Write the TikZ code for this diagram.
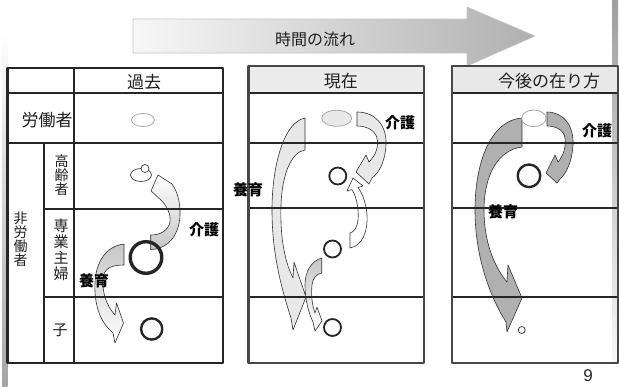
\documentclass[tikz,border=0pt]{standalone}
\usepackage{fontspec}
\setmainfont{Noto Sans CJK JP}
\newfontfamily\numfont{Liberation Sans}
\newcommand\lblfont{\fontsize{15}{15}\selectfont\bfseries}
\begin{document}
\begin{tikzpicture}[x=1pt,y=-1pt,line join=round,
  tline/.style={line width=2.3pt,draw=black!85},
  bline/.style={line width=2.4pt,draw=black!72},
  txt/.style={inner sep=0pt,text=black!88},
  lbl/.style={inner sep=0pt,text=black,font=\lblfont},
  arrA/.style={draw=black!80,line width=0.6pt},
  arrL/.style={arrA,fill=gray!18},
  arrD/.style={arrA,fill=gray!62}]
\useasboundingbox (0,0) rectangle (619,386);
\fill[white] (0,0) rectangle (619,386);

% side bars
\shade[top color=white,bottom color=gray!70] (2,33) rectangle (7.5,386);
\shade[top color=gray!75,bottom color=gray!6] (612,0) rectangle (618,362);

% time arrow
\shadedraw[left color=gray!6,right color=gray!62,draw=gray!45,line width=0.6pt]
  (133,19) -- (467,19) -- (467,7) -- (535,36) -- (467,66) -- (467,53) -- (133,53) -- cycle;
\node[txt,font=\fontsize{16}{16}\selectfont] (flow) at (315,39) {時間の流れ};

% ---------- table fills ----------
\fill[gray!15] (248.5,66) rectangle (424,93);
\fill[gray!18] (452,66) rectangle (618,93);

% ---------- arrows: table 1 ----------
\shadedraw[arrA,top color=white,bottom color=gray!45]
  (150.7,235) -- (150.7,249.5)
  .. controls (170,249) and (181,232) .. (180,210)
  .. controls (179.5,200) and (177,191) .. (172,184)
  -- (158,175) -- (151,191) -- (160,199)
  .. controls (167,206) and (171,214) .. (170,222)
  .. controls (168,231) and (160,235) .. (150.7,235) -- cycle;
\shadedraw[arrA,top color=gray!45,bottom color=white]
  (124,244) .. controls (106,246) and (96,262) .. (95,282)
  .. controls (94,305) and (100,322) .. (113,333)
  -- (115,343) -- (123.5,323) -- (116.5,303) -- (115,315)
  .. controls (106,305) and (102,292) .. (103,278)
  .. controls (104,268) and (112,265) .. (124,265) -- cycle;

% ---------- arrows: table 2 ----------
\draw[arrL]
  (305,118) .. controls (284,122) and (272,165) .. (272,210)
  .. controls (272,255) and (282,290) .. (291,318)
  -- (293,330) -- (306,297) -- (294,262) -- (293,278)
  .. controls (284,260) and (280,235) .. (281,205)
  .. controls (282,175) and (291,152) .. (305,150) -- cycle;
\draw[arrL]
  (357,112) .. controls (375,112) and (387,125) .. (386,145)
  .. controls (385,162) and (379,173) .. (372,178)
  -- (369,184) -- (356,172) -- (366,155) -- (369,162)
  .. controls (376,155) and (379,146) .. (377,138)
  .. controls (375,130) and (366,126) .. (357,126) -- cycle;
\draw[arrA,fill=white]
  (350,248) .. controls (362,246) and (368,232) .. (367,215)
  .. controls (366,202) and (362,193) .. (358,187.5)
  -- (363,186) -- (353,178) -- (347,191) -- (352,189.5)
  .. controls (357,198) and (359,210) .. (358,220)
  .. controls (357,228) and (354,232) .. (350,233) -- cycle;
\shadedraw[arrA,top color=gray!45,bottom color=white]
  (321.7,258) .. controls (311,261) and (305,272) .. (305,285)
  .. controls (305,300) and (309,314) .. (313,322)
  -- (315,331) -- (322,321) -- (317,307) -- (315,313)
  .. controls (312,305) and (311,295) .. (312,285)
  .. controls (313,278) and (316,274) .. (321.7,273) -- cycle;

% ---------- arrows: table 3 ----------
\draw[arrD]
  (522,118) .. controls (492,120) and (475,160) .. (475,210)
  .. controls (475,260) and (492,300) .. (506,322)
  -- (507,332) -- (522,298) -- (508,265) -- (507,282)
  .. controls (493,265) and (484,240) .. (484,210)
  .. controls (484,175) and (498,150) .. (522,147) -- cycle;
\draw[arrD]
  (547,112) .. controls (563,112) and (574,125) .. (573,145)
  .. controls (572,162) and (566,174) .. (560,179)
  -- (557,183) -- (546,173) -- (555,155) -- (558,162)
  .. controls (564,155) and (566,146) .. (565,138)
  .. controls (564,130) and (556,126) .. (547,126) -- cycle;

% ---------- table 1 lines ----------
\draw[tline] (7.5,68) rectangle (223,363);
\draw[tline] (74,68) -- (74,363);
\draw[tline] (7.5,93) -- (223,93);
\draw[tline] (7.5,143) -- (223,143);
\draw[tline] (44,143) -- (44,363);
\draw[tline] (44,209) -- (223,209);
\draw[tline] (44,297) -- (223,297);

% ---------- table 2 lines ----------
\draw[tline] (248.5,93) -- (424,93);
\draw[tline] (248.5,143) -- (424,143);
\draw[tline] (248.5,208) -- (424,208);
\draw[tline] (248.5,297) -- (424,297);
\draw[bline] (248.5,66) rectangle (424,363);

% ---------- table 3 lines ----------
\draw[tline] (452,93) -- (618,93);
\draw[tline] (452,143) -- (618,143);
\draw[tline] (452,208) -- (618,208);
\draw[tline] (452,297) -- (618,297);
\draw[bline] (452,66) rectangle (618,363);

% ---------- circles ----------
\draw[gray!70,line width=0.8pt] (143,120) ellipse [x radius=11.5,y radius=6.5];
\draw[black!75,line width=0.7pt] (141,175) ellipse [x radius=10.5,y radius=6.5];
\draw[black!75,line width=0.7pt,fill=white] (145,168.5) circle [radius=4];
\draw[black!85,line width=3.4pt] (146,257.5) circle [radius=15.8];
\draw[black!85,line width=2.4pt] (151.7,329) circle [radius=10.6];

\draw[gray!70,fill=gray!18,line width=0.8pt] (336.7,118.3) ellipse [x radius=15,y radius=8];
\draw[black!85,line width=1.8pt] (337.8,176) circle [radius=8.5];
\draw[black!85,line width=1.8pt] (332.5,249) circle [radius=8.5];
\draw[black!85,line width=1.8pt] (332.5,327.5) circle [radius=8.5];

\draw[gray!70,fill=white,line width=0.8pt] (533.8,118.3) ellipse [x radius=12.2,y radius=8.3];
\draw[black!85,line width=2.4pt] (529,175.8) circle [radius=11.3];
\draw[black!80,line width=0.7pt] (521.7,330) circle [radius=3.5];

% ---------- texts ----------
\node[txt,font=\fontsize{17}{17}\selectfont] (h1) at (144,82) {過去};
\node[txt,font=\fontsize{17}{17}\selectfont] (h2) at (340.8,81) {現在};
\node[txt,font=\fontsize{17}{17}\selectfont] (h3) at (549,81) {今後の在り方};
\node[txt,font=\fontsize{17}{17}\selectfont] (worker) at (47,120) {労働者};
\node[txt,align=center,font=\fontsize{14}{14}\selectfont] (nonworker) at (20.5,239) {非\\労\\働\\者};
\node[txt,align=center,font=\fontsize{14}{14}\selectfont] (elder) at (61.5,175) {高\\齢\\者};
\node[txt,align=center,font=\fontsize{15}{16}\selectfont] (house) at (61,250) {専\\業\\主\\婦};
\node[txt,font=\fontsize{15}{15}\selectfont] (child) at (60,330) {子};

\node[lbl] (care1) at (204,230) {介護};
\node[lbl] (raise1) at (94,281) {養育};
\node[lbl] (care2) at (400,123) {介護};
\node[lbl] (raise2) at (248,190) {養育};
\node[lbl] (care3) at (597,131) {介護};
\node[lbl] (raise3) at (503,212) {養育};

\node[inner sep=0pt,font=\numfont\fontsize{17}{17}\selectfont,text=black!85] (page) at (588,376) {9};
\end{tikzpicture}
\end{document}
